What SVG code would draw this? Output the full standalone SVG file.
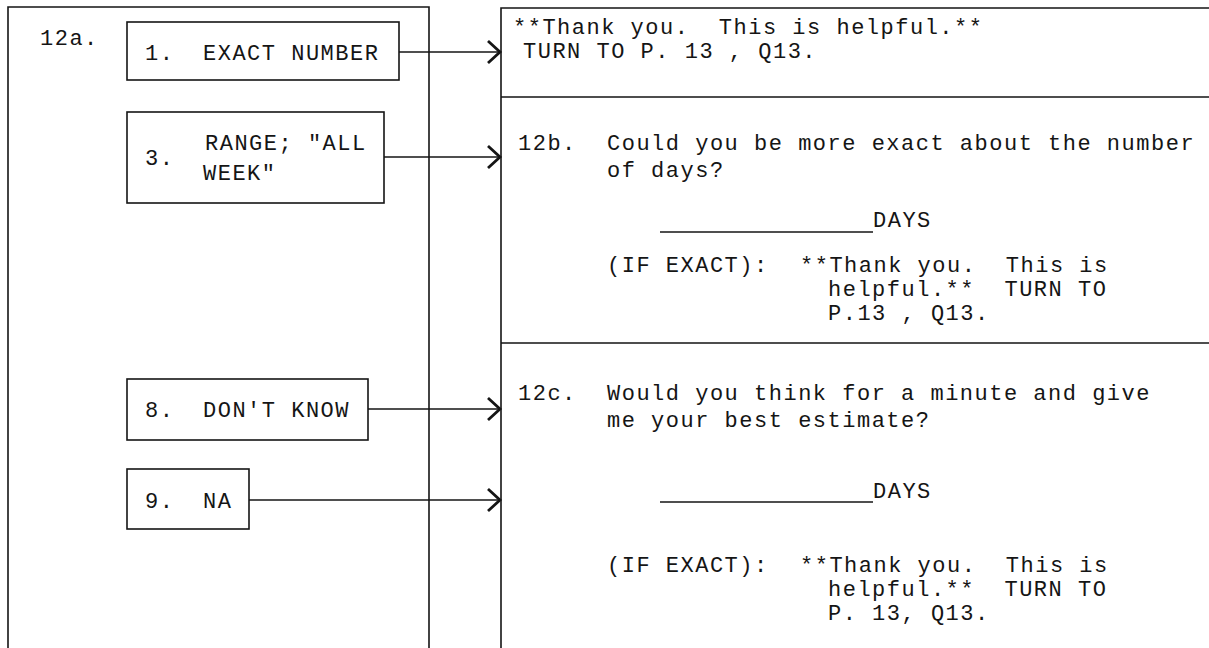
<svg xmlns="http://www.w3.org/2000/svg" width="1209" height="648" viewBox="0 0 1209 648">
<style>
text { font-family: "Liberation Mono", "DejaVu Sans Mono", monospace; font-size: 22px; letter-spacing: 1.5px; fill: #151515; white-space: pre; }
.frame { fill: none; stroke: #151515; stroke-width: 1.6; }
.box { fill: #fff; stroke: #151515; stroke-width: 1.6; }
.conn { fill: none; stroke: #151515; stroke-width: 1.6; marker-end: url(#arr); }
.rule { stroke: #151515; stroke-width: 1.6; }
</style>
<defs>
<marker id="arr" markerUnits="userSpaceOnUse" markerWidth="18" markerHeight="26" refX="15" refY="13" orient="auto">
<path d="M3,2 L15,13 L3,24" fill="none" stroke="#151515" stroke-width="2.8"/>
</marker>
</defs>
<rect width="1209" height="648" fill="#fff"/>
<g id="panel-12a">
<path class="frame" d="M8,648 V7 H429 V648"/>
<text x="40" y="45">12a.</text>
</g>
<g id="panel-right">
<path class="frame" d="M501,648 V8 H1209 M501,97 H1209 M501,343 H1209"/>
</g>
<g id="connectors">
<path class="conn" d="M399,52 H500"/>
<path class="conn" d="M384,157 H500"/>
<path class="conn" d="M368,409 H500"/>
<path class="conn" d="M249,500 H500"/>
</g>
<g id="opt-1">
<rect class="box" x="127" y="22" width="272" height="58"/>
<text x="145" y="60">1.</text><text x="203" y="60">EXACT NUMBER</text>
</g>
<g id="opt-3">
<rect class="box" x="127" y="112" width="257" height="91"/>
<text x="145" y="165">3.</text><text x="205" y="150">RANGE; "ALL</text><text x="203" y="180">WEEK"</text>
</g>
<g id="opt-8">
<rect class="box" x="127" y="379" width="241" height="61"/>
<text x="145" y="417">8.</text><text x="203" y="417">DON'T KNOW</text>
</g>
<g id="opt-9">
<rect class="box" x="127" y="469" width="122" height="60"/>
<text x="145" y="508">9.</text><text x="203" y="508">NA</text>
</g>
<g id="result-exact">
<text x="513" y="34">**Thank you.  This is helpful.**</text>
<text x="523" y="58">TURN TO P. 13 , Q13.</text>
</g>
<g id="q12b">
<text x="518" y="150">12b.</text>
<text x="607" y="150">Could you be more exact about the number</text>
<text x="607" y="177">of days?</text>
<line class="rule" x1="660" y1="232" x2="873" y2="232"/>
<text x="873" y="227">DAYS</text>
<text x="607" y="272">(IF EXACT):</text>
<text x="800" y="272">**Thank you.  This is</text>
<text x="828" y="296">helpful.**  TURN TO</text>
<text x="828" y="320">P.13 , Q13.</text>
</g>
<g id="q12c">
<text x="518" y="400">12c.</text>
<text x="607" y="400">Would you think for a minute and give</text>
<text x="607" y="427">me your best estimate?</text>
<line class="rule" x1="660" y1="502" x2="873" y2="502"/>
<text x="873" y="498">DAYS</text>
<text x="607" y="572">(IF EXACT):</text>
<text x="800" y="572">**Thank you.  This is</text>
<text x="828" y="596">helpful.**  TURN TO</text>
<text x="828" y="620">P. 13, Q13.</text>
</g>
</svg>
